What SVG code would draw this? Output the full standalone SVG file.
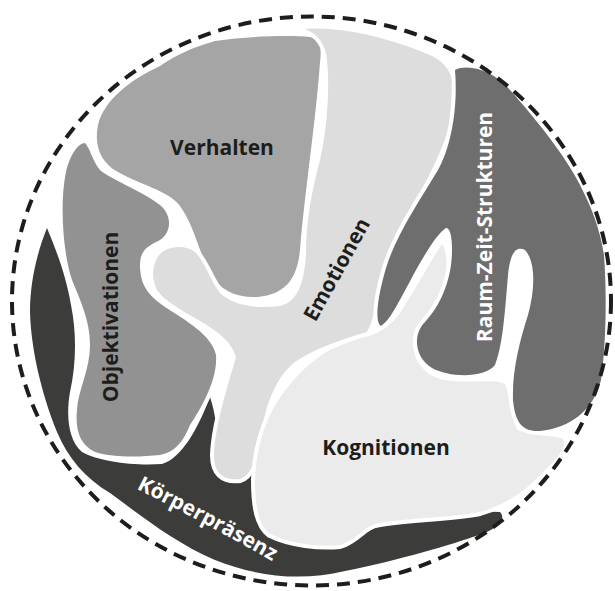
<svg xmlns="http://www.w3.org/2000/svg" width="615" height="591" viewBox="0 0 615 591">
<style>
.shape{stroke:#fff;stroke-width:8;paint-order:stroke;stroke-linejoin:round}
.lbl{font-family:"Open Sans","Noto Sans","DejaVu Sans",sans-serif;font-weight:700;font-size:21px;fill:#1d1d1b;text-anchor:middle}
.wl{fill:#fff}
</style>
<defs>
<path id="kpPath" d="M 135,488 Q 203,522 274,562"/>
</defs>
<rect width="615" height="591" fill="#fff"/>
<g id="koerperpraesenz">
<path class="shape" fill="#3c3c3b" d="M 47,228 C 56,250 66,275 71,305 C 77,335 76,365 70,392 C 66,415 68,440 82,452 C 100,462 135,466 162,464 C 182,458 198,428 210,397 C 218,420 218,450 220,465 L 256,465 C 258,500 270,525 300,530 L 360,520 C 400,512 460,510 500,512 C 506,518 500,527 482,534 C 450,545 400,560 345,571 C 300,582 255,576 215,560 C 175,543 140,515 110,493 C 85,478 68,458 57,432 C 42,395 31,350 30,312 C 30,280 38,250 47,228 Z"/>
<text class="lbl wl" font-size="20"><textPath href="#kpPath" startOffset="50%">Körperpräsenz</textPath></text>
</g>
<g id="objektivationen">
<path class="shape" fill="#929292" d="M 85,143 C 90,148 92,160 100,170 C 112,180 140,190 160,205 C 172,215 172,232 160,240 C 148,246 140,250 140,265 C 140,285 148,295 165,307 C 185,320 212,335 216,355 C 218,380 200,410 190,425 C 183,442 175,452 160,455 C 140,457 115,458 95,452 C 80,445 75,430 77,410 C 78,390 90,370 90,345 C 90,320 80,300 72,280 C 62,250 60,200 66,172 C 70,155 78,143 85,143 Z"/>
<text class="lbl" transform="translate(118,317) rotate(-90)">Objektivationen</text>
</g>
<g id="verhalten">
<path class="shape" fill="#a4a5a4" d="M 160,66 C 175,56 190,48 215,41 C 250,36 290,35 310,37 C 320,39 322,48 320,62 C 316,120 305,190 300,250 C 297,280 285,294 258,297 C 235,298 220,290 210,273 C 200,255 194,225 180,206 C 168,190 140,185 118,172 C 100,162 94,145 98,125 C 104,100 130,80 160,66 Z"/>
<text class="lbl" x="222" y="155">Verhalten</text>
</g>
<g id="emotionen">
<path class="shape" fill="#dcdddc" d="M 305,29 C 340,26 390,38 430,55 C 452,65 458,85 453,110 C 448,140 432,170 414,205 C 400,232 385,270 376,305 C 372,320 370,328 366,333 C 345,338 315,348 295,362 C 275,378 266,405 262,430 C 258,452 254,474 240,479 C 222,481 214,472 214,455 C 215,425 228,385 236,357 C 232,343 220,333 205,324 C 185,312 165,302 157,290 C 151,279 152,263 160,254 C 168,246 185,244 195,252 C 205,262 210,280 220,293 C 232,305 255,309 280,306 C 298,302 304,282 306,255 C 306,220 312,190 320,160 C 327,130 330,90 327,60 C 326,45 318,34 305,29 Z"/>
<text class="lbl" transform="translate(343,273) rotate(-61)">Emotionen</text>
</g>
<g id="kognitionen">
<path class="shape" fill="#ebebeb" d="M 372,335 C 385,330 395,322 405,305 C 418,285 430,262 442,244 C 448,252 448,275 442,295 C 436,312 422,322 415,335 C 410,355 420,375 445,380 C 470,384 495,378 505,384 C 510,395 510,420 518,430 C 535,437 555,435 563,439 C 568,446 558,458 545,470 C 525,492 505,505 480,512 C 450,518 400,518 375,524 C 362,528 356,540 340,545 C 320,547 290,544 270,534 C 258,525 255,505 255,480 C 256,452 263,425 277,402 C 290,382 308,362 330,350 C 345,343 360,338 372,335 Z"/>
<text class="lbl" x="386" y="455">Kognitionen</text>
</g>
<g id="raum-zeit-strukturen">
<path class="shape" fill="#6e6e6e" d="M 455,70 C 470,63 495,72 510,90 C 535,118 565,155 580,185 C 593,210 600,230 604,255 C 607,295 606,345 601,380 C 594,410 570,428 540,431 C 522,432 515,422 513,400 C 512,370 520,340 528,315 C 535,290 536,262 525,250 C 515,245 510,255 508,275 C 505,310 503,345 495,365 C 485,378 450,378 432,368 C 415,358 412,335 425,322 C 440,306 452,280 452,250 C 452,236 450,228 446,228 C 436,234 420,262 408,285 C 397,305 390,320 381,326 C 374,322 378,295 386,268 C 396,235 420,200 438,170 C 452,145 458,105 455,70 Z"/>
<text class="lbl wl" font-size="21.5" transform="translate(492,227) rotate(-90)">Raum-Zeit-Strukturen</text>
</g>
<g id="connectors">
<ellipse cx="311.5" cy="301" rx="299.5" ry="284.5" fill="none" stroke="#1d1d1b" stroke-width="4" stroke-dasharray="13 8"/>
</g>
</svg>
